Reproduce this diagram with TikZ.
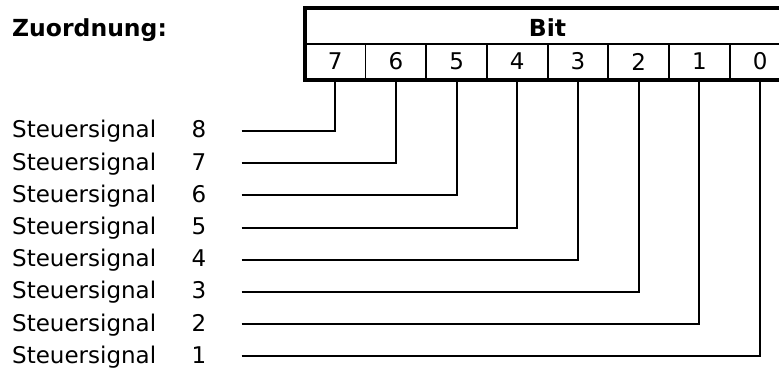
\documentclass[tikz,border=0pt]{standalone}
\usepackage{fontspec}
\setmainfont{DejaVu Sans}

\begin{document}
\begin{tikzpicture}[x=1pt,y=-1pt,every node/.style={font=\fontsize{23}{27}\selectfont,inner sep=0pt},
    cell/.style={draw,line width=1.8pt,minimum width=60.7pt,minimum height=35.3pt},
    border/.style={line width=4.2pt},
    wire/.style={line width=2pt}]
                \useasboundingbox (0,0) rectangle (779,371);

                \node[anchor=base west,font=\fontsize{23.5}{27}\selectfont\bfseries] (title) at (12,36.7) {Zuordnung:};

                % Tabelle
                \node[cell] (b7) at (335.2,61.5) {7};
                \node[cell] (b6) at (395.9,61.5) {6};
                \node[cell] (b5) at (456.6,61.5) {5};
                \node[cell] (b4) at (517.3,61.5) {4};
                \node[cell] (b3) at (578.0,61.5) {3};
                \node[cell] (b2) at (638.7,61.5) {2};
                \node[cell] (b1) at (699.4,61.5) {1};
                \node[cell] (b0) at (760.1,61.5) {0};
                \node[anchor=base,font=\fontsize{23.5}{27}\selectfont\bfseries] (bit) at (547.5,36.2) {Bit};
                \coordinate (tl) at (304.9,8.3);
                \draw[border] (tl) rectangle (b0.south east);

                % Signale
                \node[anchor=base west] (s8) at (12,138.0) {Steuersignal};
                \node[anchor=base west] (s7) at (12,170.2) {Steuersignal};
                \node[anchor=base west] (s6) at (12,202.4) {Steuersignal};
                \node[anchor=base west] (s5) at (12,234.6) {Steuersignal};
                \node[anchor=base west] (s4) at (12,266.8) {Steuersignal};
                \node[anchor=base west] (s3) at (12,299.0) {Steuersignal};
                \node[anchor=base west] (s2) at (12,331.2) {Steuersignal};
                \node[anchor=base west] (s1) at (12,363.4) {Steuersignal};

                \node[anchor=base] (n8) at (199,138.0) {8};
                \node[anchor=base] (n7) at (199,170.2) {7};
                \node[anchor=base] (n6) at (199,202.4) {6};
                \node[anchor=base] (n5) at (199,234.6) {5};
                \node[anchor=base] (n4) at (199,266.8) {4};
                \node[anchor=base] (n3) at (199,299.0) {3};
                \node[anchor=base] (n2) at (199,331.2) {2};
                \node[anchor=base] (n1) at (199,363.4) {1};

                \coordinate (c8) at (241.7,131.0);
                \coordinate (c7) at (241.7,163.2);
                \coordinate (c6) at (241.7,195.4);
                \coordinate (c5) at (241.7,227.6);
                \coordinate (c4) at (241.7,259.8);
                \coordinate (c3) at (241.7,292.0);
                \coordinate (c2) at (241.7,324.2);
                \coordinate (c1) at (241.7,356.4);

                \draw[wire] (c8) -| (b7.south);
                \draw[wire] (c7) -| (b6.south);
                \draw[wire] (c6) -| (b5.south);
                \draw[wire] (c5) -| (b4.south);
                \draw[wire] (c4) -| (b3.south);
                \draw[wire] (c3) -| (b2.south);
                \draw[wire] (c2) -| (b1.south);
                \draw[wire] (c1) -| (b0.south);
            \end{tikzpicture}
\end{document}
